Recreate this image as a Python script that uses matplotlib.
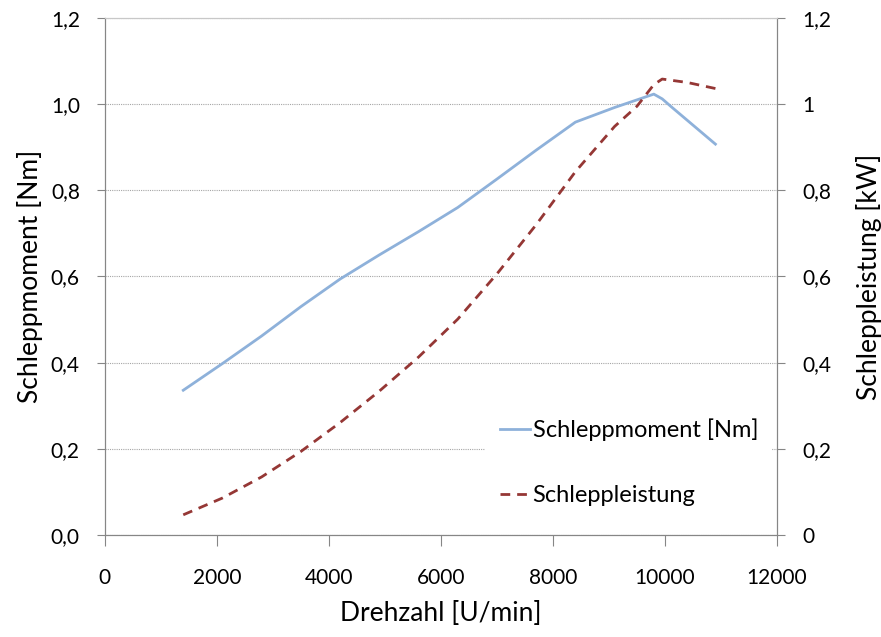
import matplotlib
matplotlib.use("Agg")
import matplotlib.pyplot as plt

# values
rpm_m = [1400, 2100, 2800, 3500, 4200, 4900, 5600, 6300, 7000, 7700, 8400, 9100, 9800, 9950, 10100, 10900]
moment = [0.336, 0.398, 0.462, 0.530, 0.594, 0.650, 0.704, 0.760, 0.826, 0.893, 0.958, 0.992, 1.023, 1.012, 0.995, 0.907]

rpm_p = [1400, 2100, 2800, 3500, 4200, 4900, 5600, 6300, 7000, 7700, 8400, 9100, 9500, 9800, 9950, 10400, 10900]
leistung = [0.047, 0.086, 0.135, 0.194, 0.261, 0.334, 0.413, 0.501, 0.606, 0.720, 0.843, 0.948, 0.995, 1.045, 1.058, 1.050, 1.036]

xticks = [0, 2000, 4000, 6000, 8000, 10000, 12000]
yticks = [0.0, 0.2, 0.4, 0.6, 0.8, 1.0, 1.2]
left_labels = ["0,0", "0,2", "0,4", "0,6", "0,8", "1,0", "1,2"]
right_labels = ["0", "0,2", "0,4", "0,6", "0,8", "1", "1,2"]

plt.rcParams['font.family'] = ['Lato', 'DejaVu Sans']
grey = "#868686"

fig = plt.figure(figsize=(8.81, 6.37), dpi=100)
ax = fig.add_axes([0.119, 0.160, 0.763, 0.812])
ax2 = ax.twinx()

l1, = ax.plot(rpm_m, moment, color="#8EB1DA", lw=2.0, label="Schleppmoment [Nm]")
l2, = ax2.plot(rpm_p, leistung, color="#953735", lw=2.0, ls=(0, (3.5, 2.5)), label="Schleppleistung")

ax.set_xlim(0, 12000)
ax.set_ylim(0, 1.2)
ax2.set_ylim(0, 1.2)
ax.set_xticks(xticks)
ax.set_xticklabels([str(t) for t in xticks])
ax.set_yticks(yticks)
ax.set_yticklabels(left_labels)
ax2.set_yticks(yticks)
ax2.set_yticklabels(right_labels)

for a in (ax, ax2):
    for s in a.spines.values():
        s.set_color(grey)
    a.spines['top'].set_color("#c8c8c8")
    a.tick_params(colors=grey, labelcolor="black", labelsize=15, direction="out", length=6)
ax.tick_params(axis="x", pad=16, length=8)
ax.tick_params(axis="y", pad=12)
ax2.tick_params(axis="y", pad=12)

ax.grid(axis="y", color="#a6a6a6", ls=(0, (1, 1)), lw=0.8)
ax.set_axisbelow(True)

ax.set_xlabel("Drehzahl [U/min]", fontsize=19, labelpad=9)
ax.set_ylabel("Schleppmoment [Nm]", fontsize=19, labelpad=6)
ax2.set_ylabel("Schleppleistung [kW]", fontsize=19, labelpad=18)

leg = ax2.legend([l1, l2], ["Schleppmoment [Nm]", "Schleppleistung"],
                 loc="lower right", bbox_to_anchor=(1.0, 0.02), frameon=True,
                 fontsize=17, handlelength=1.3, handletextpad=0.1, labelspacing=1.85,
                 borderpad=0.6, borderaxespad=0.2)
leg.get_frame().set_facecolor("white")
leg.get_frame().set_edgecolor("none")
leg.get_frame().set_alpha(1)

fig.savefig("out.png", dpi=100)
